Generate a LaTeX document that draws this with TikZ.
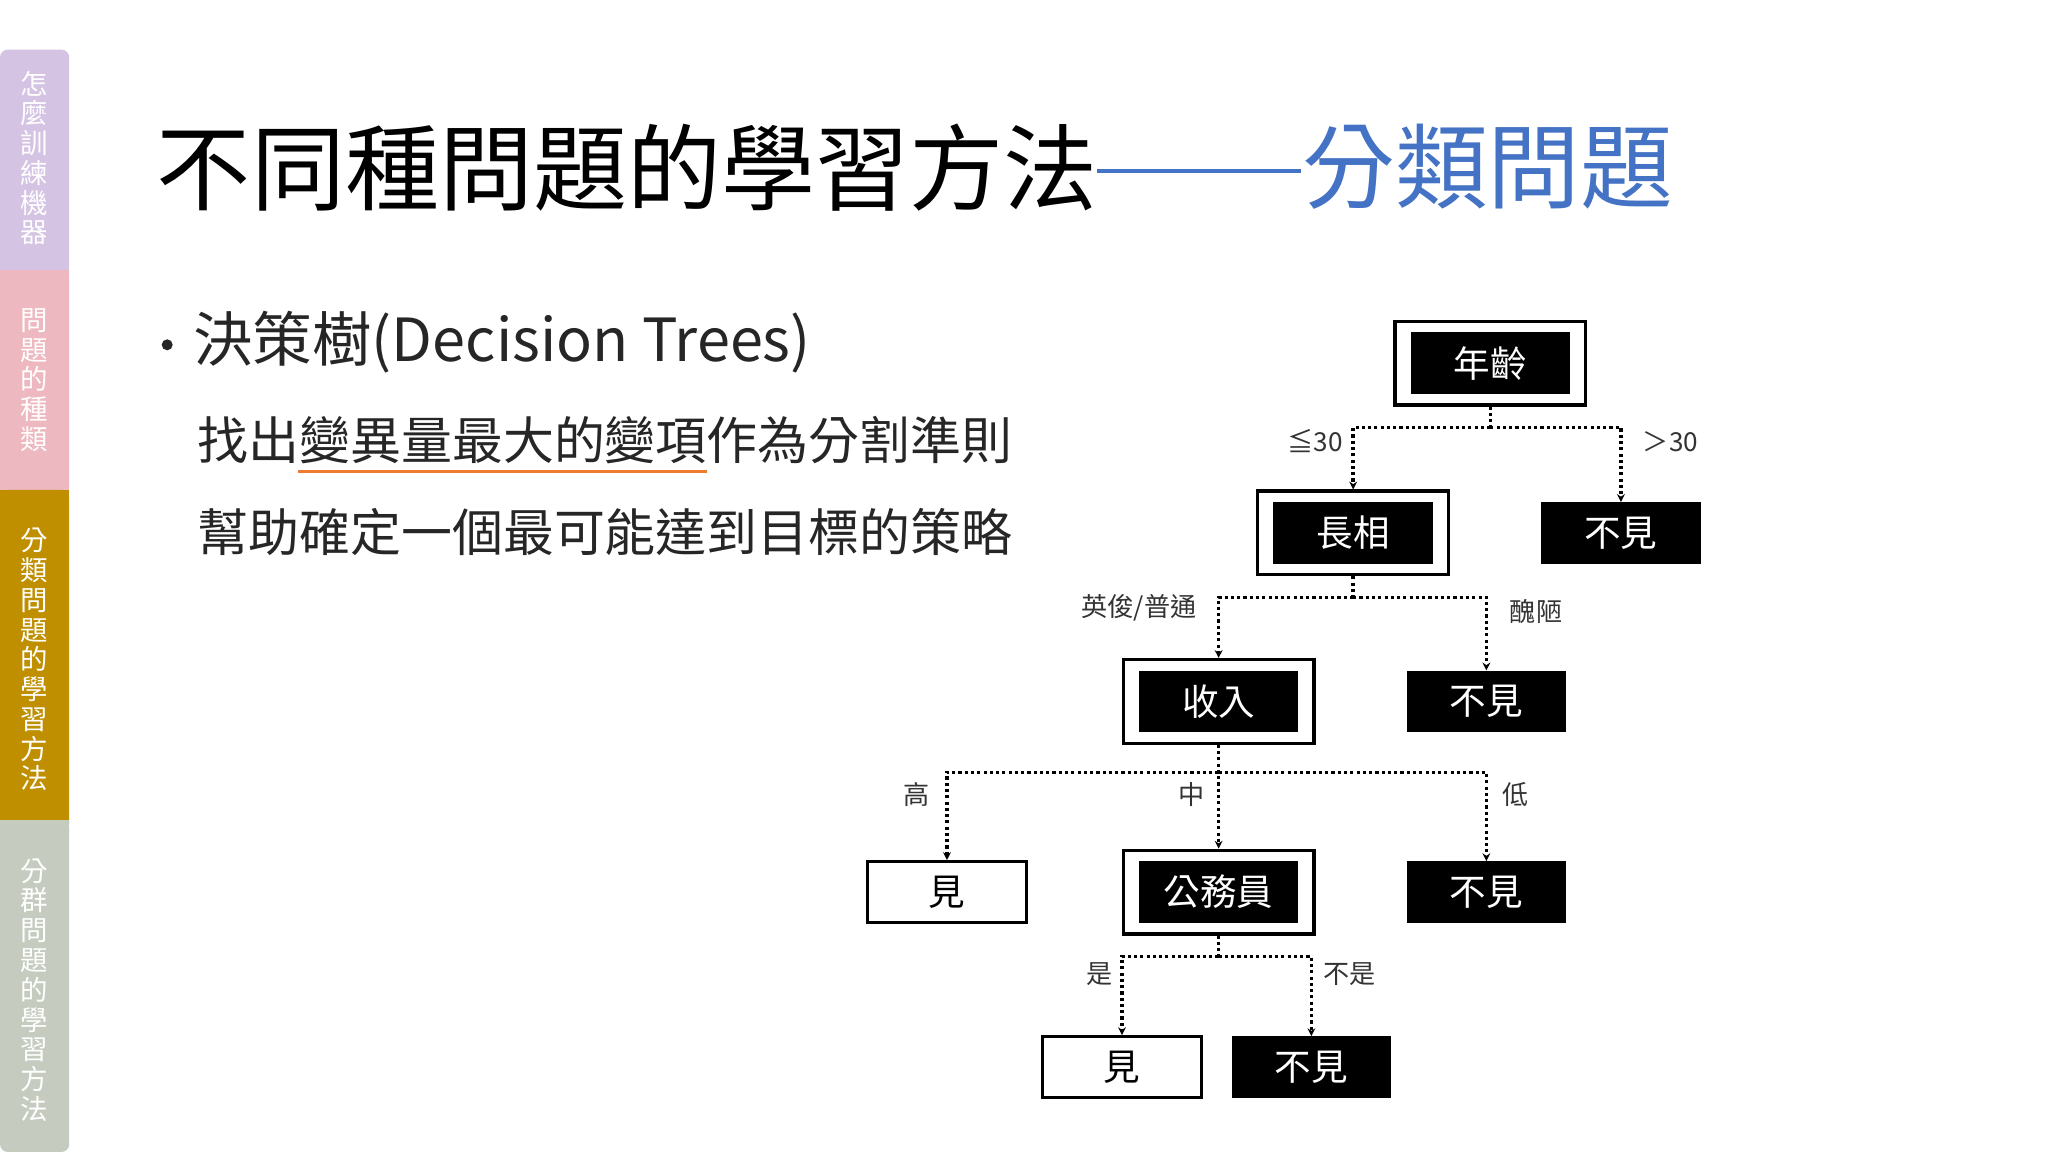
\documentclass[tikz,border=0pt]{standalone}
\usepackage{fontspec}
\setmainfont{Noto Sans CJK TC}
\usetikzlibrary{arrows.meta}
\definecolor{tpurple}{HTML}{D5C3E3}
\definecolor{tpink}{HTML}{EDB8BF}
\definecolor{tgold}{HTML}{BF8F00}
\definecolor{tgray}{HTML}{C5CCBF}
\definecolor{tblue}{HTML}{4472C4}
\definecolor{torange}{HTML}{ED7D31}
\tikzset{
  tabtext/.style={text=white, align=center, font=\fontsize{21}{22.8}\selectfont, inner sep=0},
  blk/.style={fill=black, text=white, minimum width=122pt, minimum height=47pt, inner sep=0, font=\fontsize{28}{30}\selectfont},
  wht/.style={fill=white, draw=black, line width=2pt, text=black, minimum width=122pt, minimum height=47pt, inner sep=0, font=\fontsize{28}{30}\selectfont},
  frame/.style={draw=black, line width=2.5pt, minimum width=146pt, minimum height=64pt, inner sep=0},
  conn/.style={line width=2.6pt, dash pattern=on 2.4pt off 2.4pt, -{Stealth[length=6pt,width=6pt]}},
  seg/.style={line width=2.6pt, dash pattern=on 2.4pt off 2.4pt},
  lbl/.style={font=\fontsize{20}{22}\selectfont, text=black!80, inner sep=0},
}
\begin{document}
\begin{tikzpicture}[x=1pt,y=-1pt]
\useasboundingbox (0,0) rectangle (1568,882);
\fill[white] (0,0) rectangle (1568,882);
% sidebar
\fill[tpurple, rounded corners=6pt] (0,38) rectangle (53,215);
\fill[tpink, rounded corners=6pt] (0,207) rectangle (53,383);
\fill[tgold, rounded corners=6pt] (0,375) rectangle (53,636);
\fill[tgray, rounded corners=6pt] (0,628) rectangle (53,882);
\fill[tpink] (0,207) rectangle (53,212);
\fill[tgold] (0,375) rectangle (53,380);
\fill[tgray] (0,628) rectangle (53,633);
\node[tabtext] (t1) at (26,121) {怎\\麼\\訓\\練\\機\\器};
\node[tabtext] (t2) at (26,291) {問\\題\\的\\種\\類};
\node[tabtext] (t3) at (26,505) {分\\類\\問\\題\\的\\學\\習\\方\\法};
\node[tabtext] (t4) at (26,758) {分\\群\\問\\題\\的\\學\\習\\方\\法};
% title
\node[anchor=west, inner sep=0, font=\fontsize{72}{80}\selectfont] (title) at (120,128) {不同種問題的學習方法};
\coordinate (d1) at (840,131); \coordinate (d2) at (996,131);
\draw[tblue, line width=3pt] (d1) -- (d2);
\node[anchor=west, inner sep=0, font=\fontsize{71}{80}\selectfont, text=tblue] (title2) at (997,128) {分類問題};
% bullets
\fill[black!85] (128,264) circle (4.2pt);
\node[anchor=west, inner sep=0, font=\fontsize{45.5}{50}\selectfont, text=black!85] (b1) at (148,262) {決策樹(Decision Trees)};
\node[anchor=west, inner sep=0, font=\fontsize{39}{44}\selectfont, text=black!85] (l1) at (151,337) {找出變異量最大的變項作為分割準則};
\node[anchor=west, inner sep=0, font=\fontsize{39}{44}\selectfont, text=black!85] (l2) at (151,407) {幫助確定一個最可能達到目標的策略};
\coordinate (u1) at (228,361); \coordinate (u2) at (541,361);
\draw[torange, line width=3pt] (u1) -- (u2);
% tree
\node[frame] (f1) at (1141,278) {}; \node[blk] (n1) at (1141,278) {年齡};
\node[frame] (f2) at (1036,408) {}; \node[blk] (n2) at (1036,408) {長相};
\node[blk] (n3) at (1241,408) {不見};
\node[frame] (f4) at (933,537) {}; \node[blk] (n4) at (933,537) {收入};
\node[blk] (n5) at (1138,537) {不見};
\node[wht] (n6) at (725,683) {見};
\node[frame] (f7) at (933,683) {}; \node[blk] (n7) at (933,683) {公務員};
\node[blk] (n8) at (1138,683) {不見};
\node[wht] (n9) at (859,817) {見};
\node[blk] (n10) at (1004,817) {不見};
% connectors
\draw[seg] (f1.south) -- ++(0,16) coordinate (h1);
\draw[conn] (h1) -| (f2.north);
\draw[conn] (h1) -| (n3.north);
\draw[seg] (f2.south) -- ++(0,16) coordinate (h2);
\draw[conn] (h2) -| (f4.north);
\draw[conn] (h2) -| (n5.north);
\draw[seg] (f4.south) -- ++(0,21) coordinate (h3);
\draw[conn] (h3) -| (n6.north);
\draw[conn] (f4.south) -- (f7.north);
\draw[conn] (h3) -| (n8.north);
\draw[seg] (f7.south) -- ++(0,16) coordinate (h4);
\draw[conn] (h4) -| (n9.north);
\draw[conn] (h4) -| (n10.north);
% labels
\node[lbl] (a1) at (1007,338) {≦30};
\node[lbl] (a2) at (1279,338) {＞30};
\node[lbl] (a3) at (872,465) {英俊/普通};
\node[lbl] (a4) at (1176,468) {醜陋};
\node[lbl] (a5) at (702,608) {高};
\node[lbl] (a6) at (912,608) {中};
\node[lbl] (a7) at (1160,608) {低};
\node[lbl] (a8) at (842,746) {是};
\node[lbl] (a9) at (1033,746) {不是};
\end{tikzpicture}
\end{document}
